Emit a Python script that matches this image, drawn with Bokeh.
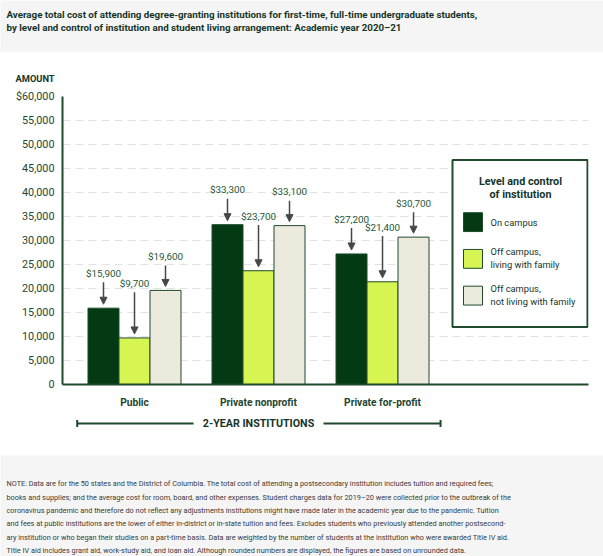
from bokeh.plotting import figure
from bokeh.layouts import column
from bokeh.models import Range1d, ColumnDataSource, Arrow, NormalHead, FixedTicker, NumeralTickFormatter
from bokeh.core.properties import value
from bokeh.embed import file_html
from bokeh.resources import INLINE

# ---------------- data ----------------
categories = ["Public", "Private nonprofit", "Private for-profit"]
series_labels = ["On campus", "Off campus,\nliving with family", "Off campus,\nnot living with family"]
on_campus = [15900, 33300, 27200]
off_campus_family = [9700, 23700, 21400]
off_campus_not_family = [19600, 33100, 30700]
y_ticks = [0, 5000, 10000, 15000, 20000, 25000, 30000, 35000, 40000, 45000, 50000, 55000, 60000]
level_label = "2-YEAR INSTITUTIONS"
legend_title = "Level and control\nof institution"
y_axis_title = "AMOUNT"
title_lines = [
    "Average total cost of attending degree-granting institutions for first-time, full-time undergraduate students,",
    "by level and control of institution and student living arrangement: Academic year 2020\u201321",
]
note_lines = [
    "NOTE: Data are for the 50 states and the District of Columbia. The total cost of attending a postsecondary institution includes tuition and required fees;",
    "books and supplies; and the average cost for room, board, and other expenses. Student charges data for 2019\u201320 were collected prior to the outbreak of the",
    "coronavirus pandemic and therefore do not reflect any adjustments institutions might have made later in the academic year due to the pandemic. Tuition",
    "and fees at public institutions are the lower of either in-district or in-state tuition and fees. Excludes students who previously attended another postsecond-",
    "ary institution or who began their studies on a part-time basis. Data are weighted by the number of students at the institution who were awarded Title IV aid.",
    "Title IV aid includes grant aid, work-study aid, and loan aid. Although rounded numbers are displayed, the figures are based on unrounded data.",
]

series_values = [on_campus, off_campus_family, off_campus_not_family]

# ---------------- style ----------------
DARK = "#033a14"
LIME = "#d6f552"
BEIGE = "#ece9dd"
series_colors = [DARK, LIME, BEIGE]
OUTLINE = "#1f4b2c"
TEXT_GREEN = "#1f4530"
VALUE_GREEN = "#24573a"
TITLE_GREEN = "#15352a"
ARROW_C = "#474747"
GRID = "#e2e2e2"
BAND = "#f5f5f5"
NOTE_TEXT = "#3a3a3a"
FONT = value("Roboto")
W = 603


def band_fig(h, bg):
    f = figure(width=W, height=h, x_range=Range1d(0, W), y_range=Range1d(h, 0),
               x_axis_location=None, y_axis_location=None, min_border=0,
               outline_line_color=None, background_fill_color=bg, border_fill_color=bg,
               output_backend="svg", toolbar_location=None, frame_align=False)
    f.grid.visible = False
    return f


# ---------------- title band ----------------
t = band_fig(52, BAND)
t.text(x=[6, 6], y=[14, 27], text=title_lines, text_baseline="middle", text_align="left",
       text_font=FONT, text_font_style="bold", text_font_size="9.75px", text_color=TITLE_GREEN)

# ---------------- amount header ----------------
a = band_fig(36, "white")
a.text(x=[15], y=[26], text=[y_axis_title], text_baseline="middle", text_align="left",
       text_font=FONT, text_font_style="bold", text_font_size="9.3px", text_color=TITLE_GREEN)

# ---------------- main chart ----------------
X0, X1 = -0.5806, 3.661
p = figure(width=W, height=322, x_range=Range1d(X0, X1), y_range=Range1d(0, 60000),
           output_backend="svg", toolbar_location=None, frame_align=False,
           min_border_left=62, min_border_right=15, min_border_top=8, min_border_bottom=24,
           outline_line_color=None, background_fill_color="white", border_fill_color="white")

p.yaxis.ticker = FixedTicker(ticks=y_ticks)
p.yaxis.formatter = NumeralTickFormatter(format="0,0")
p.yaxis.major_label_overrides = {y_ticks[-1]: "$60,000"}
p.yaxis.major_tick_line_color = None
p.yaxis.minor_tick_line_color = None
p.yaxis.axis_line_color = OUTLINE
p.yaxis.axis_line_width = 2
p.yaxis.major_label_standoff = 2
p.yaxis.major_label_text_font = "Roboto"
p.yaxis.major_label_text_font_size = "10.8px"
p.yaxis.major_label_text_color = TEXT_GREEN

p.xaxis.ticker = FixedTicker(ticks=list(range(len(categories))))
p.xaxis.major_label_overrides = {i: c for i, c in enumerate(categories)}
p.xaxis.major_tick_line_color = None
p.xaxis.minor_tick_line_color = None
p.xaxis.axis_line_color = OUTLINE
p.xaxis.axis_line_width = 2
p.xaxis.major_label_standoff = 6
p.xaxis.major_label_text_font = "Roboto"
p.xaxis.major_label_text_font_size = "10.2px"
p.xaxis.major_label_text_font_style = "bold"
p.xaxis.major_label_text_color = TEXT_GREEN

p.xgrid.grid_line_color = None
p.ygrid.ticker = FixedTicker(ticks=y_ticks)
p.ygrid.grid_line_color = GRID
p.ygrid.grid_line_dash = "8 5"
p.ygrid.grid_line_width = 1

BAR_W = 0.25
PX = 60000 / 290.0          # dollars per screen pixel
label_off = [35, 55, 34]    # label centre above bar top (px)

for k, (vals, col) in enumerate(zip(series_values, series_colors)):
    xs = [i + (k - 1) * BAR_W for i in range(len(categories))]
    src = ColumnDataSource(dict(
        x=xs, top=vals,
        label=["${:,}".format(v) for v in vals],
        ly=[v + label_off[k] * PX for v in vals],
        ys=[v + (label_off[k] - 9) * PX for v in vals],
        ye=[v + 4 * PX for v in vals],
    ))
    p.vbar(x="x", top="top", bottom=0, width=BAR_W, source=src,
           fill_color=col, line_color=OUTLINE, line_width=1)
    p.add_layout(Arrow(end=NormalHead(size=7, fill_color=ARROW_C, line_color=ARROW_C),
                       x_start="x", y_start="ys", x_end="x", y_end="ye", source=src,
                       line_color=ARROW_C, line_width=1.5))
    p.text(x="x", y="ly", text="label", source=src, text_align="center", text_baseline="middle",
           text_font=FONT, text_font_size="9.9px", text_color=VALUE_GREEN)

# legend (drawn in frame pixel space)
p.extra_x_ranges = {"lx": Range1d(0, 526)}
p.extra_y_ranges = {"ly": Range1d(290, 0)}
p.quad(left=[390], right=[525], top=[64], bottom=[232], x_range_name="lx", y_range_name="ly",
       fill_color="white", line_color=OUTLINE, line_width=2)
tl = legend_title.split("\n")
p.text(x=[458] * len(tl), y=[86 + 13 * i for i in range(len(tl))], text=tl,
       x_range_name="lx", y_range_name="ly", text_align="center", text_baseline="middle",
       text_font=FONT, text_font_style="bold", text_font_size="10.8px", text_color=TITLE_GREEN)
for k, (lab, col) in enumerate(zip(series_labels, series_colors)):
    top = 117 + 37 * k
    p.quad(left=[401], right=[420], top=[top], bottom=[top + 19], x_range_name="lx", y_range_name="ly",
           fill_color=col, line_color=OUTLINE, line_width=1)
    lines = lab.split("\n")
    if len(lines) == 1:
        ys = [top + 9.5]
    else:
        ys = [top + 2.5 + 13 * i for i in range(len(lines))]
    p.text(x=[428] * len(lines), y=ys, text=lines, x_range_name="lx", y_range_name="ly",
           text_align="left", text_baseline="middle",
           text_font=FONT, text_font_size="9.3px", text_color=TITLE_GREEN)

# ---------------- level bracket ----------------
ppu = 526 / (X1 - X0)
b = figure(width=W, height=45, x_range=Range1d(X0 - 62 / ppu, X1 + 15 / ppu), y_range=Range1d(45, 0),
           x_axis_location=None, y_axis_location=None, min_border=0, frame_align=False,
           outline_line_color=None, background_fill_color="white", border_fill_color="white",
           output_backend="svg", toolbar_location=None)
b.grid.visible = False
first, last = 0, len(categories) - 1
mid = (first + last) / 2
bl, br = first - 0.462, last + 0.468
gap = 0.524
b.segment(x0=[bl, mid + gap], y0=[13, 13], x1=[mid - gap, br], y1=[13, 13],
          line_color=OUTLINE, line_width=2)
b.segment(x0=[bl, br], y0=[9.5, 9.5], x1=[bl, br], y1=[16.5, 16.5],
          line_color=OUTLINE, line_width=2)
b.text(x=[mid], y=[13], text=[level_label], text_align="center", text_baseline="middle",
       text_font=FONT, text_font_style="bold", text_font_size="10.7px", text_color=TITLE_GREEN)

# ---------------- note band ----------------
n = band_fig(101, BAND)
n.text(x=[6] * len(note_lines), y=[28.3 + 13.3 * i for i in range(len(note_lines))], text=note_lines,
       text_align="left", text_baseline="middle",
       text_font=FONT, text_font_size="7.3px", text_color=NOTE_TEXT)

layout = column(t, a, p, b, n, spacing=0)
open("out.html", "w").write(file_html(layout, INLINE))
